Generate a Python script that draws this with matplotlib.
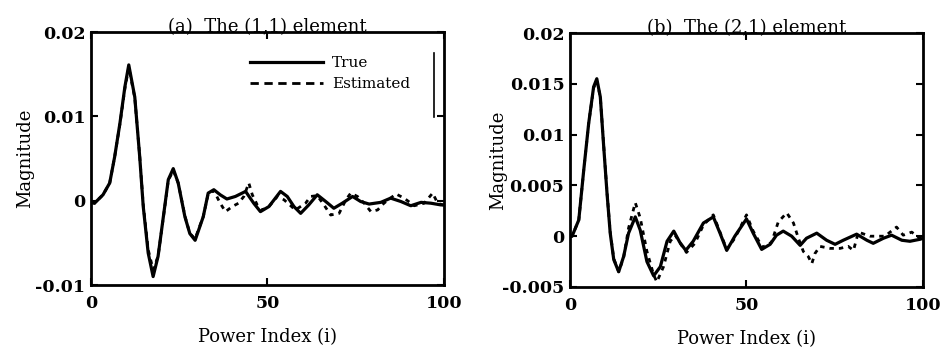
import matplotlib.pyplot as plt
from matplotlib.lines import Line2D

# (a) the (1,1) element
a_true_i = [0, 1.0, 3.4, 5.3, 6.7, 8.2, 9.6, 10.7, 12.4, 13.8, 14.8, 16.2, 17.6, 19, 20.5, 21.9,
            23.3, 24.7, 26.6, 28, 29.5, 31.8, 33.2, 34.8, 36.6, 38.5, 40.9, 43.8, 46.1, 48, 50.4,
            53.7, 55.6, 57.5, 59.4, 61.7, 64.1, 66.5, 68.8, 71.2, 74.1, 76.4, 78.8, 82.1, 84.9,
            87.8, 90.6, 93.5, 96.3, 99.1, 100]
a_true = [-0.0002, -0.0003, 0.0007, 0.0021, 0.0052, 0.0092, 0.0135, 0.0161, 0.0123, 0.0052,
          -0.0007, -0.0062, -0.0090, -0.0066, -0.0019, 0.0025, 0.0038, 0.0021, -0.0019, -0.0039,
          -0.0047, -0.0019, 0.0009, 0.0013, 0.0007, 0.0002, 0.0005, 0.0011, -0.0003, -0.0013,
          -0.0007, 0.0011, 0.0005, -0.0007, -0.0015, -0.0005, 0.0007, -0.0001, -0.0009, -0.0003,
          0.0005, -0.0001, -0.0004, -0.0002, 0.0003, -0.0001, -0.0006, -0.0002, -0.0003, -0.0005,
          -0.0005]
a_est_i = [0, 1.0, 3.4, 5.3, 6.7, 8.2, 9.6, 10.7, 12.4, 13.8, 14.8, 16.2, 17.6, 19, 20.5, 21.9,
           23.3, 24.7, 26.6, 28, 29.5, 31.8, 33.2, 34.8, 36.6, 38.1, 40, 41.8, 43.3, 44.7, 45.7,
           47.1, 48.5, 50.4, 52.8, 54.7, 57.9, 60.8, 62.2, 64.1, 66, 67.9, 70.3, 72.2, 73.6, 75.5,
           77.4, 79.3, 81.2, 83, 86.4, 88.7, 91.6, 94.4, 96.8, 98.2, 99.6, 100]
a_est = [-0.0002, -0.0003, 0.0007, 0.0021, 0.0052, 0.0091, 0.0133, 0.0158, 0.0122, 0.0053,
         -0.0005, -0.0058, -0.0082, -0.0066, -0.0020, 0.0024, 0.0036, 0.0021, -0.0018, -0.0039,
         -0.0045, -0.0019, 0.0008, 0.0012, -0.0003, -0.0013, -0.0007, -0.0003, 0.0005, 0.0021,
         0.0007, -0.0005, -0.0011, -0.0007, 0.0005, 0.0001, -0.0011, -0.0003, 0.0005, 0.0006,
         -0.0005, -0.0017, -0.0015, 0.0001, 0.0009, 0.0005, -0.0003, -0.0013, -0.0011, -0.0003,
         0.0008, 0.0003, -0.0006, -0.0003, 0.0009, -0.0003, -0.0005, -0.0005]

# (b) the (2,1) element
b_true_i = [0, 0.6, 2.5, 3.9, 5.3, 6.7, 7.6, 8.6, 9.5, 10.5, 11.4, 12.4, 13.8, 15.2, 16.6, 18.5,
            19.9, 21.8, 23.7, 25.6, 27.5, 29.4, 31.1, 32.8, 34.9, 37.8, 40.6, 42.5, 44.4, 46.7, 50,
            51.9, 54.3, 56.7, 58.5, 60.4, 62.8, 65.2, 67, 69.9, 72.7, 75.1, 77.4, 81.2, 84.1,
            85.9, 88.8, 91.1, 94, 96.3, 99.2, 100]
b_true = [0.0, 0.0, 0.0016, 0.0065, 0.0111, 0.0147, 0.0155, 0.0137, 0.0091, 0.0042, 0.0003,
          -0.0023, -0.0035, -0.0020, 0.0003, 0.0019, 0.0006, -0.0025, -0.0039, -0.0030, -0.0005,
          0.0005, -0.0006, -0.0014, -0.0005, 0.0013, 0.0019, 0.0003, -0.0014, 0.0, 0.0017, 0.0003,
          -0.0013, -0.0008, 0.0001, 0.0005, 0.0, -0.0009, -0.0002, 0.0003, -0.0004, -0.0008,
          -0.0004, 0.0002, -0.0004, -0.0007, -0.0002, 0.0001, -0.0004, -0.0005, -0.0003, -0.0002]
b_est_i = [0, 0.6, 2.5, 3.9, 5.3, 6.7, 7.6, 8.6, 9.5, 10.5, 11.4, 12.4, 13.8, 15.2, 16.6, 18.5,
           19.9, 21.8, 23.7, 24.6, 26.5, 28.4, 29.8, 31.6, 33, 35.4, 37.8, 40.6, 42.5, 44.4, 46.7,
           50, 51.9, 54.5, 57.1, 59, 61.4, 63.3, 64.7, 66.1, 67.5, 68.5, 69.4, 70.8, 73.7, 76.5,
           78.8, 80.3, 81.7, 85, 89.2, 92.5, 94.4, 96.8, 99.2, 100]
b_est = [0.0, 0.0, 0.0016, 0.0065, 0.0111, 0.0146, 0.0153, 0.0137, 0.0092, 0.0043, 0.0004,
         -0.0022, -0.0035, -0.0021, 0.0008, 0.0033, 0.0018, -0.0015, -0.0038, -0.0045, -0.0030,
         -0.0005, 0.0001, -0.0009, -0.0016, -0.0007, 0.0011, 0.0021, 0.0004, -0.0013, -0.0002,
         0.0021, 0.0005, -0.0011, -0.0006, 0.0014, 0.0023, 0.0013, -0.0002, -0.0015, -0.0020,
         -0.0027, -0.0017, -0.0010, -0.0012, -0.0012, -0.0010, -0.0014, 0.0004, 0.0, 0.0, 0.0009,
         0.0001, 0.0004, -0.0002, -0.0002]

panels = [
    ("(a)  The (1,1) element", a_true_i, a_true, a_est_i, a_est,
     (-0.01, 0.02), [-0.01, 0, 0.01, 0.02], ["-0.01", "0", "0.01", "0.02"]),
    ("(b)  The (2,1) element", b_true_i, b_true, b_est_i, b_est,
     (-0.005, 0.02), [-0.005, 0, 0.005, 0.01, 0.015, 0.02],
     ["-0.005", "0", "0.005", "0.01", "0.015", "0.02"]),
]

plt.rcParams['font.family'] = ['DejaVu Serif']

fig = plt.figure(figsize=(9.46, 3.6), dpi=100)
axes = [fig.add_axes([0.0962, 0.2083, 0.3731, 0.7028]),
        fig.add_axes([0.6025, 0.2028, 0.3732, 0.7055])]
ylab_x = [-0.187, -0.204]

for k, (ax, (title, ti, tv, ei, ev, ylim, yt, ytl)) in enumerate(zip(axes, panels)):
    ax.plot(ei, ev, color='black', lw=2.0, ls=(0, (1.6, 1.8)))
    ax.plot(ti, tv, color='black', lw=2.3, solid_joinstyle='round')
    ax.set_xlim(0, 100)
    ax.set_ylim(*ylim)
    ax.set_xticks([0, 50, 100])
    ax.set_xticklabels(["0", "50", "100"])
    ax.set_yticks(yt)
    ax.set_yticklabels(ytl)
    ax.tick_params(direction='in', top=True, right=True, length=5, width=1.5,
                   labelsize=12.5)
    ax.tick_params(axis='x', pad=7)
    ax.tick_params(axis='y', pad=4)
    for lab in ax.get_xticklabels() + ax.get_yticklabels():
        lab.set_fontweight('bold')
    for s in ax.spines.values():
        s.set_linewidth(2)
    ax.set_title(title, fontsize=13, pad=0)
    ax.set_xlabel("Power Index (i)", fontsize=13)
    ax.set_ylabel("Magnitude", fontsize=13)
    ax.xaxis.set_label_coords(0.5, -0.205)
    ax.xaxis.label.set_verticalalignment('center')
    ax.yaxis.set_label_coords(ylab_x[k], 0.5)
    ax.yaxis.label.set_verticalalignment('center')

# legend on the left panel only
ax = axes[0]
handles = [Line2D([], [], color='black', lw=2.3),
           Line2D([], [], color='black', lw=2.0, ls=(0, (3, 2)))]
ax.legend(handles, ["True", "Estimated"], loc='upper left', bbox_to_anchor=(0.45, 0.905),
          frameon=False, fontsize=11, handlelength=4.8, handletextpad=0.6,
          borderaxespad=0, borderpad=0, labelspacing=0.45)
ax.plot([0.972, 0.972], [0.664, 0.917], transform=ax.transAxes, color='black', lw=1.2)

fig.savefig("out.png", dpi=100)
